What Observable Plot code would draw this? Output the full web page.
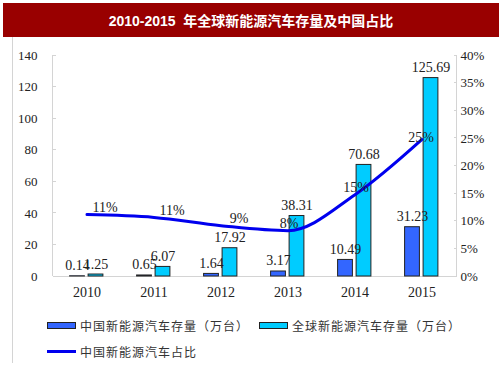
<!DOCTYPE html>
<html>
<head>
<meta charset="utf-8">
<script src="https://cdn.jsdelivr.net/npm/d3@7"></script>
<script src="https://cdn.jsdelivr.net/npm/@observablehq/plot@0.6"></script>
<style>
  html, body { margin: 0; padding: 0; background: #fff; }
  #wrap { position: relative; width: 503px; height: 378px; overflow: hidden; background: #fff; }
  #title { position: absolute; left: 3px; top: 3px; width: 496px; height: 34px; background: #990000; color: #fff;
    font: bold 14px "Liberation Sans", Arial, "Noto Sans CJK SC", sans-serif; display: flex; align-items: center; justify-content: center; white-space: pre; }
  #border { position: absolute; left: 12px; top: 37px; width: 0; height: 326px; border-left: 1px solid #d4d4d4; }
  #chart { position: absolute; left: 0; top: 37px; }
  #chart text { font-family: "Liberation Serif", "Times New Roman", serif; }
  .leg { position: absolute; font: 12px "Noto Sans CJK SC", sans-serif; letter-spacing: 1px; color: #333; white-space: nowrap; display: flex; align-items: center; }
  .sw { width: 27px; height: 5px; border: 1px solid #222; margin-right: 4px; }
  .ln { width: 29px; height: 3px; background: #0000EE; margin-right: 4px; }
</style>
</head>
<body>
<div id="wrap">
  <div id="title">2010-2015  年全球新能源汽车存量及中国占比</div>
  <div id="border"></div>
  <div id="chart"></div>
  <div class="leg" style="left:47px; top:317px;"><div class="sw" style="background:#3366FF"></div>中国新能源汽车存量（万台）</div>
  <div class="leg" style="left:259px; top:317px;"><div class="sw" style="background:#00CCFF"></div>全球新能源汽车存量（万台）</div>
  <div class="leg" style="left:47px; top:343px;"><div class="ln"></div>中国新能源汽车占比</div>
</div>
<script>
const years = ["2010", "2011", "2012", "2013", "2014", "2015"];
const chinaStock = [0.14, 0.65, 1.64, 3.17, 10.49, 31.23];
const globalStock = [1.25, 6.07, 17.92, 38.31, 70.68, 125.69];
const chinaShare = [11.2, 10.7, 9.2, 8.3, 14.8, 24.8];
const shareLabels = ["11%", "11%", "9%", "8%", "15%", "25%"];
const leftTicks = [0, 20, 40, 60, 80, 100, 120, 140];
const rightTicks = [0, 5, 10, 15, 20, 25, 30, 35, 40];

const K = 140 / 40; // percent -> left axis units
const data = years.map((y, i) => ({
  year: y, china: chinaStock[i], global: globalStock[i],
  share: chinaShare[i] * K, shareLabel: shareLabels[i], i
}));

const serif = "Liberation Serif, Times New Roman, serif";

const axisLines = (index, scales, values, dims) => {
  const g = d3.create("svg:g").attr("stroke", "#d4d4d4").attr("shape-rendering", "crispEdges");
  const y0 = scales.y(0), y1 = scales.y(140);
  const xl = dims.marginLeft + 0.5, xr = dims.width - dims.marginRight + 0.5;
  g.append("line").attr("x1", xl).attr("x2", xl).attr("y1", y0).attr("y2", y1);
  g.append("line").attr("x1", xr).attr("x2", xr).attr("y1", y0).attr("y2", y1);
  g.append("line").attr("x1", xl).attr("x2", xr).attr("y1", y0).attr("y2", y0);
  for (const t of leftTicks) {
    const y = scales.y(t);
    g.append("line").attr("x1", xl).attr("x2", xl + 3).attr("y1", y).attr("y2", y);
  }
  for (const t of rightTicks) {
    const y = scales.y(t * K);
    g.append("line").attr("x1", xr - 3).attr("x2", xr).attr("y1", y).attr("y2", y);
  }
  return g.node();
};

const chart = Plot.plot({
  width: 503,
  height: 270,
  marginLeft: 52,
  marginRight: 47,
  marginTop: 18,
  marginBottom: 31,
  style: { fontFamily: serif, fontSize: "14px", color: "#222", background: "transparent" },
  x: { type: "band", domain: years, padding: 0, label: null },
  y: { domain: [0, 140], label: null },
  marks: [
    Plot.axisY(leftTicks, { anchor: "left", tickSize: 0, tickPadding: 15, fontSize: 13, fill: "#222", fontFamily: serif, label: null }),
    Plot.axisY(rightTicks.map(d => d * K), { anchor: "right", tickSize: 0, tickPadding: 4, tickFormat: d => Math.round(d / K) + "%", fontSize: 13, fill: "#222", fontFamily: serif, label: null }),
    Plot.axisX({ tickSize: 0, tickPadding: 11, fontSize: 14, fill: "#222", fontFamily: serif, label: null }),
    axisLines,
    Plot.barY(data, { x: "year", y: "china", fill: "#3366FF", stroke: "#222", strokeWidth: 1, insetLeft: 16.6, insetRight: 35.6 }),
    Plot.barY(data, { x: "year", y: "global", fill: "#00CCFF", stroke: "#222", strokeWidth: 1, insetLeft: 35.1, insetRight: 17.1 }),
    Plot.text(data, { x: "year", y: "china", text: d => String(d.china), dx: -9.5, dy: -6, lineAnchor: "bottom", fontSize: 14, fill: "#222", fontFamily: serif }),
    Plot.text(data, { x: "year", y: "global", text: d => String(d.global), dx: 9, dy: -6, lineAnchor: "bottom", fontSize: 14, fill: "#222", fontFamily: serif }),
    Plot.line(data, { x: "year", y: "share", stroke: "#0000EE", strokeWidth: 3, curve: "monotone-x" }),
    Plot.text(data.filter(d => d.i < 3), { x: "year", y: "share", text: "shareLabel", dx: 18, dy: -7, fontSize: 14, fill: "#222", fontFamily: serif }),
    Plot.text(data.filter(d => d.i >= 3 && d.i < 5), { x: "year", y: "share", text: "shareLabel", dx: 1, dy: -7, fontSize: 14, fill: "#222", fontFamily: serif }),
    Plot.text(data.filter(d => d.i === 5), { x: "year", y: "share", text: "shareLabel", dx: -1, dy: -2, fontSize: 14, fill: "#222", fontFamily: serif })
  ]
});
document.getElementById("chart").appendChild(chart);
</script>
</body>
</html>
